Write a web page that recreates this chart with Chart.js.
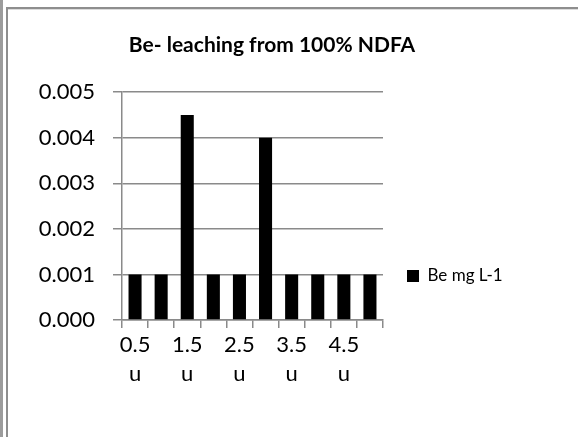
<!DOCTYPE html>
<html>
<head>
<meta charset="utf-8">
<script src="https://cdn.jsdelivr.net/npm/chart.js@4"></script>
<style>
  html, body { margin: 0; padding: 0; background: #fff; }
  #wrap { position: relative; width: 578px; height: 437px; overflow: hidden; }
  #chart { position: absolute; left: 0; top: 0; }
  .edge { position: absolute; pointer-events: none; }
</style>
</head>
<body>
<div id="wrap">
  <canvas id="chart" width="578" height="437"></canvas>
  <div class="edge" style="left:0;top:0;width:3px;height:437px;background:#9c9c9c"></div>
  <div class="edge" style="left:6px;top:7px;width:2px;height:430px;background:#8e8e8e"></div>
  <div class="edge" style="left:6px;top:7px;right:0;height:2px;background:#8e8e8e"></div>
  <div class="edge" style="left:8px;top:9px;right:0;height:1px;background:#dcdcdc"></div>
</div>
<script>
// Leaching samples (categories) and measured beryllium concentration
const categories = ['0.5 u', '1 u', '1.5 u', '2 u', '2.5 u', '3 u', '3.5 u', '4 u', '4.5 u', '5 u'];
const beValues = [0.001, 0.001, 0.0045, 0.001, 0.001, 0.004, 0.001, 0.001, 0.001, 0.001];
const seriesName = 'Be mg L-1';
const chartTitle = 'Be- leaching from 100% NDFA';
const yMin = 0;
const yMax = 0.005;
const yStep = 0.001;

const FONT = "Lato, 'Open Sans', 'Liberation Sans', sans-serif";
const GRID = '#8a8a8a';

// Places the title and legend blocks after Chart.js has laid out the plot
const boxPlacement = {
  id: 'boxPlacement',
  beforeLayout(chart, args, opts) {
    const lg = chart.legend;
    if (lg && !lg._fixedFit) {
      const fit = lg.fit.bind(lg);
      lg.fit = function () { fit(); this.width = opts.legendWidth; };
      lg._fixedFit = true;
    }
  },
  afterLayout(chart, args, opts) {
    const lg = chart.legend;
    if (lg) {
      const dx = opts.legendBoxX - (lg.left + lg.options.padding);
      lg.left += dx; lg.right += dx;
      const dy = opts.legendCenterY - (lg.top + lg.bottom) / 2;
      lg.top += dy; lg.bottom += dy;
    }
    const tb = chart.titleBlock;
    if (tb) {
      const dx = opts.titleCenterX - (tb.left + tb.right) / 2;
      tb.left += dx; tb.right += dx;
    }
  }
};

new Chart(document.getElementById('chart'), {
  type: 'bar',
  data: {
    labels: categories,
    datasets: [{
      label: seriesName,
      data: beValues,
      backgroundColor: '#000000',
      borderWidth: 0,
      barPercentage: 0.5,
      categoryPercentage: 1.0
    }]
  },
  options: {
    responsive: false,
    animation: false,
    devicePixelRatio: 1,
    layout: { padding: { left: 8, right: 0, top: 8, bottom: 0 } },
    plugins: {
      title: {
        display: true,
        text: chartTitle,
        color: '#000',
        font: { family: FONT, size: 21, weight: 'bold', lineHeight: 1.2 },
        padding: { top: 25, bottom: 34 }
      },
      legend: {
        display: true,
        position: 'right',
        padding: 10,
        labels: {
          color: '#000',
          boxWidth: 12,
          boxHeight: 12,
          font: { family: FONT, size: 17 }
        }
      },
      tooltip: { enabled: false },
      boxPlacement: { legendWidth: 195, legendBoxX: 407, legendCenterY: 276, titleCenterX: 272 }
    },
    scales: {
      x: {
        type: 'category',
        offset: true,
        grid: {
          display: true,
          drawOnChartArea: false,
          drawTicks: true,
          tickLength: 8,
          color: GRID,
          lineWidth: 1.5,
          offset: true
        },
        border: { display: true, color: GRID, width: 1.5 },
        ticks: {
          autoSkip: false,
          maxRotation: 0,
          minRotation: 0,
          padding: 3,
          color: '#000',
          font: { family: FONT, size: 22, lineHeight: 1.3 },
          callback: function (value, index) {
            return index % 2 === 0 ? categories[index].split(' ') : '';
          }
        },
        afterFit(scale) { scale.height = 117; }
      },
      y: {
        min: yMin,
        max: yMax,
        grid: {
          color: GRID,
          lineWidth: 1.5,
          tickLength: 9,
          drawTicks: true
        },
        border: { display: true, color: GRID, width: 1.5 },
        ticks: {
          stepSize: yStep,
          padding: 18,
          color: '#000',
          font: { family: FONT, size: 22 },
          callback: v => v.toFixed(3)
        },
        afterFit(scale) { scale.width = 114; }
      }
    }
  },
  plugins: [boxPlacement]
});
</script>
</body>
</html>
